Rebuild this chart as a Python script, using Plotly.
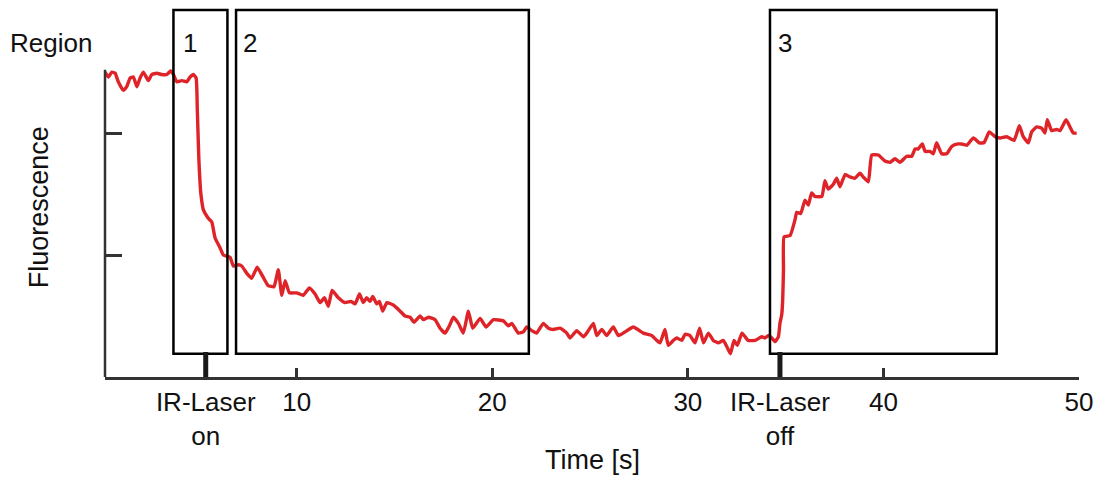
import plotly.graph_objects as go

# Fluorescence trace (time in s, fluorescence in arbitrary units)
time_s = [
    0.20, 0.37, 0.55, 0.72, 0.88, 1.14, 1.31, 1.48, 1.65, 1.83, 1.99, 2.16, 2.42, 2.59, 2.85,
    3.10, 3.36, 3.56, 3.70, 3.87, 4.13, 4.38, 4.55, 4.72, 4.86,
    4.92, 5.00, 5.06, 5.11, 5.23, 5.49, 5.66, 5.83, 6.08, 6.25, 6.43, 6.60, 6.76, 7.02, 7.19,
    7.45, 7.70, 7.98, 8.28, 8.54, 8.84, 9.06, 9.24, 9.41, 9.63, 10.00, 10.34, 10.65, 10.94,
    11.20, 11.42, 11.62, 11.81, 12.13, 12.47, 12.78, 12.99, 13.21, 13.41, 13.58, 13.75, 13.89,
    14.10, 14.23, 14.40, 14.61, 14.94, 15.29, 15.54, 15.80, 16.00, 16.31, 16.48, 16.73, 17.08,
    17.33, 17.59, 17.84, 18.01, 18.27, 18.52, 18.78, 19.00, 19.38, 19.68, 20.06, 20.57, 20.82,
    21.00, 21.33, 21.59, 21.76, 22.02, 22.27, 22.61, 22.87, 23.12, 23.47, 23.81, 23.98, 24.32,
    24.66, 24.83, 25.17, 25.34, 25.60, 25.85, 26.19, 26.45, 26.79, 27.21, 27.72, 28.15, 28.41,
    28.58, 28.83, 29.00, 29.26, 29.43, 29.69, 29.86, 30.11, 30.37, 30.60, 30.80, 31.05, 31.30,
    31.56, 31.81, 31.99, 32.18, 32.36, 32.53, 32.77, 33.08, 33.44, 33.78, 33.95, 34.12, 34.29,
    34.46, 34.63, 34.71, 34.80, 34.85, 34.89, 34.92, 35.23, 35.48, 35.57, 35.77, 35.99, 36.16,
    36.33, 36.50, 36.85, 37.01, 37.18, 37.44, 37.61, 37.78, 38.04, 38.29, 38.55, 38.80, 38.97,
    39.23, 39.40, 39.74, 40.08, 40.34, 40.59, 40.85, 41.19, 41.45, 41.62, 41.78, 41.99, 42.13,
    42.38, 42.55, 42.72, 42.98, 43.24, 43.49, 43.75, 44.00, 44.26, 44.60, 44.90, 45.14, 45.41,
    45.71, 45.96, 46.30, 46.68, 46.95, 47.15, 47.41, 47.58, 47.84, 48.09, 48.26, 48.38, 48.60,
    48.86, 49.03, 49.34, 49.54, 49.71, 49.88,
]
fluorescence = [
    2.50, 2.46, 2.50, 2.49, 2.42, 2.35, 2.38, 2.45, 2.46, 2.38, 2.45, 2.50, 2.43, 2.48, 2.49,
    2.48, 2.48, 2.51, 2.48, 2.42, 2.43, 2.42, 2.46, 2.48, 2.45,
    2.19, 1.78, 1.59, 1.49, 1.37, 1.30, 1.27, 1.14, 1.06, 1.00, 0.99, 0.98, 0.91, 0.92, 0.91,
    0.85, 0.81, 0.90, 0.82, 0.75, 0.74, 0.88, 0.67, 0.79, 0.69, 0.69, 0.67, 0.73, 0.68,
    0.61, 0.65, 0.58, 0.71, 0.65, 0.61, 0.62, 0.60, 0.68, 0.61, 0.65, 0.62, 0.66,
    0.60, 0.62, 0.54, 0.61, 0.59, 0.54, 0.50, 0.49, 0.45, 0.50, 0.47, 0.49, 0.47,
    0.40, 0.36, 0.43, 0.49, 0.44, 0.36, 0.54, 0.40, 0.48, 0.41, 0.47, 0.46, 0.42,
    0.44, 0.36, 0.37, 0.41, 0.38, 0.36, 0.44, 0.40, 0.39, 0.40, 0.36, 0.32, 0.38,
    0.33, 0.36, 0.44, 0.34, 0.39, 0.34, 0.41, 0.34, 0.37, 0.41, 0.36, 0.34, 0.30,
    0.28, 0.39, 0.26, 0.30, 0.32, 0.30, 0.35, 0.34, 0.28, 0.40, 0.28, 0.36, 0.30,
    0.28, 0.30, 0.25, 0.19, 0.30, 0.26, 0.36, 0.30, 0.30, 0.33, 0.32, 0.34, 0.32,
    0.29, 0.33, 0.44, 0.51, 0.63, 0.88, 1.15, 1.16, 1.29, 1.35, 1.34, 1.45, 1.41,
    1.51, 1.48, 1.48, 1.61, 1.54, 1.58, 1.63, 1.56, 1.66, 1.64, 1.63, 1.67, 1.64,
    1.60, 1.82, 1.82, 1.77, 1.76, 1.79, 1.76, 1.81, 1.81, 1.87, 1.87, 1.91, 1.85,
    1.85, 1.83, 1.92, 1.83, 1.83, 1.89, 1.91, 1.91, 1.90, 1.96, 1.92, 1.92, 2.01,
    1.97, 1.96, 1.97, 1.94, 2.06, 1.97, 1.92, 2.01, 2.05, 2.04, 2.00, 2.11, 2.02,
    2.03, 2.02, 2.11, 2.05, 2.00, 2.00,
]

# Analysis regions: label, start, end (s)
region_labels = ["1", "2", "3"]
region_start = [3.70, 6.90, 34.20]
region_end = [6.46, 21.87, 45.79]
region_bottom = 0.19
region_top = 3.01

# Laser switching events
laser_times = [5.35, 34.71]
laser_texts = ["IR-Laser<br>on", "IR-Laser<br>off"]

# Regular time ticks
time_ticks = [10, 20, 30, 40, 50]
fluor_ticks = [1, 2]
fluor_axis_top = 2.52

FONT = "Arial, Liberation Sans, sans-serif"
INK = "#111111"
AXIS = "#333333"

tickvals = sorted(time_ticks + laser_times)
tick_lookup = {t: str(t) for t in time_ticks}
tick_lookup.update(dict(zip(laser_times, laser_texts)))
ticktext = [tick_lookup[v] for v in tickvals]

fig = go.Figure()
fig.add_trace(go.Scatter(
    x=time_s, y=fluorescence, mode="lines",
    line=dict(color="#de2428", width=3.4, shape="spline", smoothing=0.4),
    hoverinfo="skip", showlegend=False,
))

shapes = []
for x0, x1 in zip(region_start, region_end):
    shapes.append(dict(type="rect", xref="x", yref="y", x0=x0, x1=x1,
                       y0=region_bottom, y1=region_top,
                       line=dict(color="black", width=2.5), fillcolor="rgba(0,0,0,0)"))
for t in laser_times:
    shapes.append(dict(type="line", xref="x", yref="y", x0=t, x1=t, y0=0, y1=0.205,
                       line=dict(color="#1a1a1a", width=5)))
# vertical fluorescence axis line, shorter than the plotting area
shapes.append(dict(type="line", xref="paper", yref="y", x0=0, x1=0, y0=0, y1=fluor_axis_top,
                   line=dict(color=AXIS, width=2.5)))

annotations = [
    dict(text="Region", xref="paper", yref="y", x=-0.0995, y=2.74, xanchor="left",
         yanchor="middle", showarrow=False, font=dict(size=26, color=INK, family=FONT)),
    dict(text="Time [s]", xref="paper", yref="paper", x=0.5, y=-0.223, xanchor="center",
         yanchor="middle", showarrow=False, font=dict(size=27, color=INK, family=FONT)),
    dict(text="Fluorescence", xref="paper", yref="y", x=-0.067, y=1.39, xanchor="center",
         yanchor="middle", textangle=-90, showarrow=False,
         font=dict(size=27, color=INK, family=FONT)),
]
label_x = [4.55, 7.62, 34.97]
for lab, lx in zip(region_labels, label_x):
    annotations.append(dict(text=lab, xref="x", yref="y", x=lx, y=2.74, xanchor="center",
                            yanchor="middle", showarrow=False,
                            font=dict(size=26, color=INK, family=FONT)))

fig.update_layout(
    width=1105, height=479,
    margin=dict(l=105, r=26, t=5, b=102),
    paper_bgcolor="white", plot_bgcolor="white",
    shapes=shapes, annotations=annotations,
    font=dict(family=FONT, size=26, color=INK),
    xaxis=dict(range=[0.2, 50], showgrid=False, zeroline=False,
               showline=True, linecolor=AXIS, linewidth=2.5,
               ticks="inside", ticklen=9, tickwidth=2.5, tickcolor=AXIS,
               tickvals=tickvals, ticktext=ticktext,
               tickfont=dict(size=26, color=INK, family=FONT)),
    yaxis=dict(range=[0, 3.05], showgrid=False, zeroline=False, showline=False,
               ticks="inside", ticklen=17, tickwidth=2.5, tickcolor=AXIS,
               tickvals=fluor_ticks, showticklabels=False),
)

fig.write_html("out.html")
